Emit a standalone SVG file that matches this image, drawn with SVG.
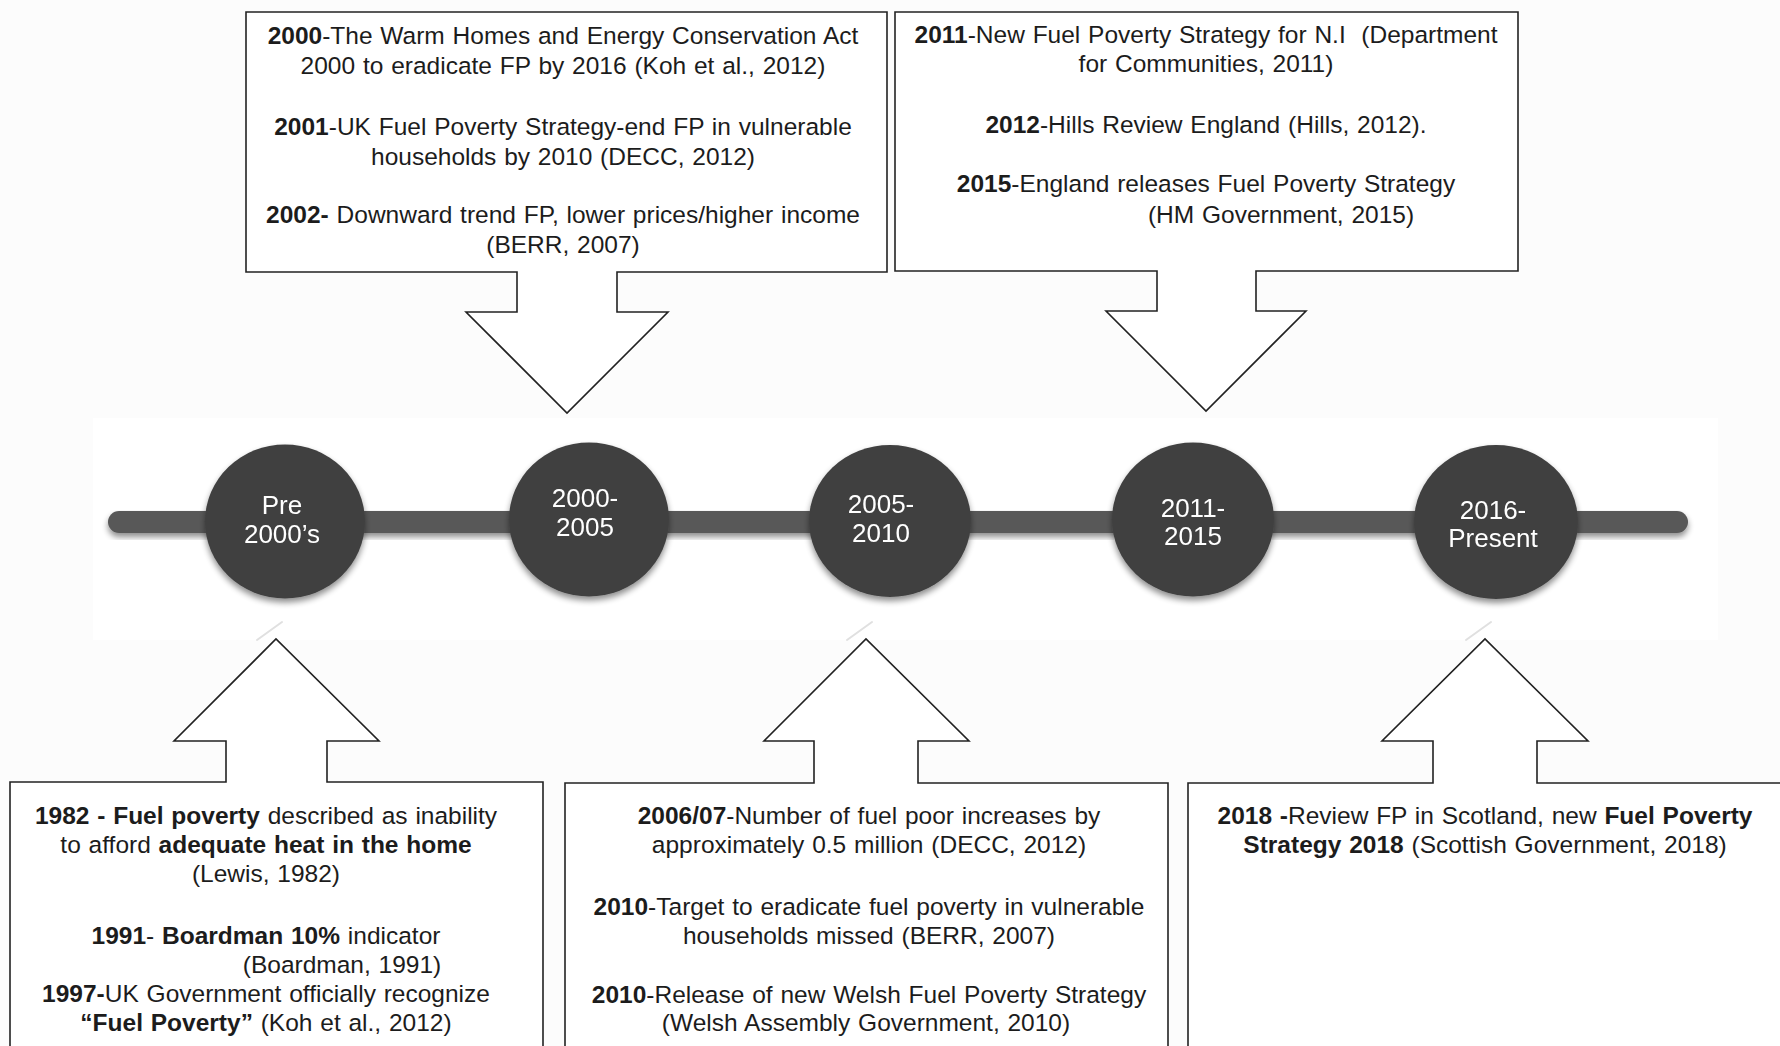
<svg xmlns="http://www.w3.org/2000/svg" width="1780" height="1046" viewBox="0 0 1780 1046">
  <defs>
    <filter id="soft" x="-20%" y="-20%" width="140%" height="150%">
      <feGaussianBlur in="SourceAlpha" stdDeviation="3"/>
      <feOffset dy="4" result="b"/>
      <feComponentTransfer><feFuncA type="linear" slope="0.45"/></feComponentTransfer>
      <feMerge><feMergeNode/><feMergeNode in="SourceGraphic"/></feMerge>
    </filter>
    <style>
      .callout { fill: #ffffff; stroke: #222222; stroke-width: 1.6; stroke-linejoin: miter; }
      .txt { font-family: "Liberation Sans", Arial, sans-serif; font-size: 24.5px; fill: #1c1c1c; text-anchor: middle; word-spacing: 1px; }
      .b { font-weight: bold; }
      .era { fill: #404040; }
      .era-label { font-family: "Liberation Sans", Arial, sans-serif; font-size: 26px; fill: #ffffff; text-anchor: middle; }
      .glint { stroke: #e0e0e0; stroke-width: 2; stroke-linecap: round; fill: none; }
    </style>
  </defs>

  <!-- page and timeline band -->
  <rect x="0" y="0" width="1780" height="1046" fill="#fcfcfc"/>
  <rect x="93" y="418" width="1625" height="222" fill="#ffffff"/>

  <!-- timeline bar and callout pointers -->
  <g id="connectors">
    <rect x="108" y="511" width="1580" height="22" rx="11" fill="#595959" filter="url(#soft)"/>
    <path class="glint" d="M257,640 L282,622"/>
    <path class="glint" d="M847,640 L872,622"/>
    <path class="glint" d="M1466,640 L1491,622"/>
  </g>

  <!-- era markers -->
  <g id="era-pre2000" filter="url(#soft)">
    <ellipse class="era" cx="285" cy="521.5" rx="80" ry="77"/>
    <text class="era-label" x="282" y="514">Pre</text>
    <text class="era-label" x="282" y="543">2000’s</text>
  </g>
  <g id="era-2000-2005" filter="url(#soft)">
    <ellipse class="era" cx="589" cy="519.5" rx="80" ry="77"/>
    <text class="era-label" x="585" y="507">2000-</text>
    <text class="era-label" x="585" y="536">2005</text>
  </g>
  <g id="era-2005-2010" filter="url(#soft)">
    <ellipse class="era" cx="890" cy="521" rx="81" ry="76"/>
    <text class="era-label" x="881" y="513">2005-</text>
    <text class="era-label" x="881" y="542">2010</text>
  </g>
  <g id="era-2011-2015" filter="url(#soft)">
    <ellipse class="era" cx="1193" cy="519.5" rx="81" ry="77"/>
    <text class="era-label" x="1193" y="517">2011-</text>
    <text class="era-label" x="1193" y="545">2015</text>
  </g>
  <g id="era-2016-present" filter="url(#soft)">
    <ellipse class="era" cx="1496" cy="522" rx="82" ry="77"/>
    <text class="era-label" x="1493" y="519">2016-</text>
    <text class="era-label" x="1493" y="547">Present</text>
  </g>

  <!-- callout: 2000-2005 -->
  <g id="note-2000-2005">
    <path class="callout" d="M246,12 H887 V272 H617 V312 H668 L567,413 L466,312 H517 V272 H246 Z"/>
    <text class="txt" x="563" y="44"><tspan class="b">2000</tspan>-The Warm Homes and Energy Conservation Act</text>
    <text class="txt" x="563" y="74">2000 to eradicate FP by 2016 (Koh et al., 2012)</text>
    <text class="txt" x="563" y="135"><tspan class="b">2001</tspan>-UK Fuel Poverty Strategy-end FP in vulnerable</text>
    <text class="txt" x="563" y="165">households by 2010 (DECC, 2012)</text>
    <text class="txt" x="563" y="223"><tspan class="b">2002-</tspan> Downward trend FP, lower prices/higher income</text>
    <text class="txt" x="563" y="253">(BERR, 2007)</text>
  </g>

  <!-- callout: 2011-2015 -->
  <g id="note-2011-2015">
    <path class="callout" d="M895,12 H1518 V271 H1256 V311 H1306 L1206,411 L1106,311 H1157 V271 H895 Z"/>
    <text class="txt" x="1206" y="43" xml:space="preserve"><tspan class="b">2011</tspan>-New Fuel Poverty Strategy for N.I  (Department</text>
    <text class="txt" x="1206" y="72">for Communities, 2011)</text>
    <text class="txt" x="1206" y="133"><tspan class="b">2012</tspan>-Hills Review England (Hills, 2012).</text>
    <text class="txt" x="1206" y="192"><tspan class="b">2015</tspan>-England releases Fuel Poverty Strategy</text>
    <text class="txt" x="1281" y="223">(HM Government, 2015)</text>
  </g>

  <!-- callout: pre 2000 (box runs off the bottom edge) -->
  <g id="note-pre2000">
    <path class="callout" d="M10,1060 V782 H226 V741 H174 L276,639 L379,741 H327 V782 H543 V1060 Z"/>
    <text class="txt" x="266" y="824"><tspan class="b">1982 - Fuel poverty</tspan> described as inability</text>
    <text class="txt" x="266" y="853">to afford <tspan class="b">adequate heat in the home</tspan></text>
    <text class="txt" x="266" y="882">(Lewis, 1982)</text>
    <text class="txt" x="266" y="944"><tspan class="b">1991</tspan>- <tspan class="b">Boardman 10%</tspan> indicator</text>
    <text class="txt" x="342" y="973">(Boardman, 1991)</text>
    <text class="txt" x="266" y="1002"><tspan class="b">1997-</tspan>UK Government officially recognize</text>
    <text class="txt" x="266" y="1031"><tspan class="b">“Fuel Poverty”</tspan> (Koh et al., 2012)</text>
  </g>

  <!-- callout: 2005-2010 -->
  <g id="note-2005-2010">
    <path class="callout" d="M565,1060 V783 H814 V741 H764 L866,639 L969,741 H918 V783 H1168 V1060 Z"/>
    <text class="txt" x="869" y="824"><tspan class="b">2006/07</tspan>-Number of fuel poor increases by</text>
    <text class="txt" x="869" y="853">approximately 0.5 million (DECC, 2012)</text>
    <text class="txt" x="869" y="915"><tspan class="b">2010</tspan>-Target to eradicate fuel poverty in vulnerable</text>
    <text class="txt" x="869" y="944">households missed (BERR, 2007)</text>
    <text class="txt" x="869" y="1003"><tspan class="b">2010</tspan>-Release of new Welsh Fuel Poverty Strategy</text>
    <text class="txt" x="866" y="1031">(Welsh Assembly Government, 2010)</text>
  </g>

  <!-- callout: 2016-present (box runs off the right and bottom edges) -->
  <g id="note-2016-present">
    <path class="callout" d="M1188,1060 V783 H1433 V741 H1382 L1485,639 L1588,741 H1537 V783 H1795 V1060 Z"/>
    <text class="txt" x="1485" y="824"><tspan class="b">2018 -</tspan>Review FP in Scotland, new <tspan class="b">Fuel Poverty</tspan></text>
    <text class="txt" x="1485" y="853"><tspan class="b">Strategy 2018</tspan> (Scottish Government, 2018)</text>
  </g>
</svg>
